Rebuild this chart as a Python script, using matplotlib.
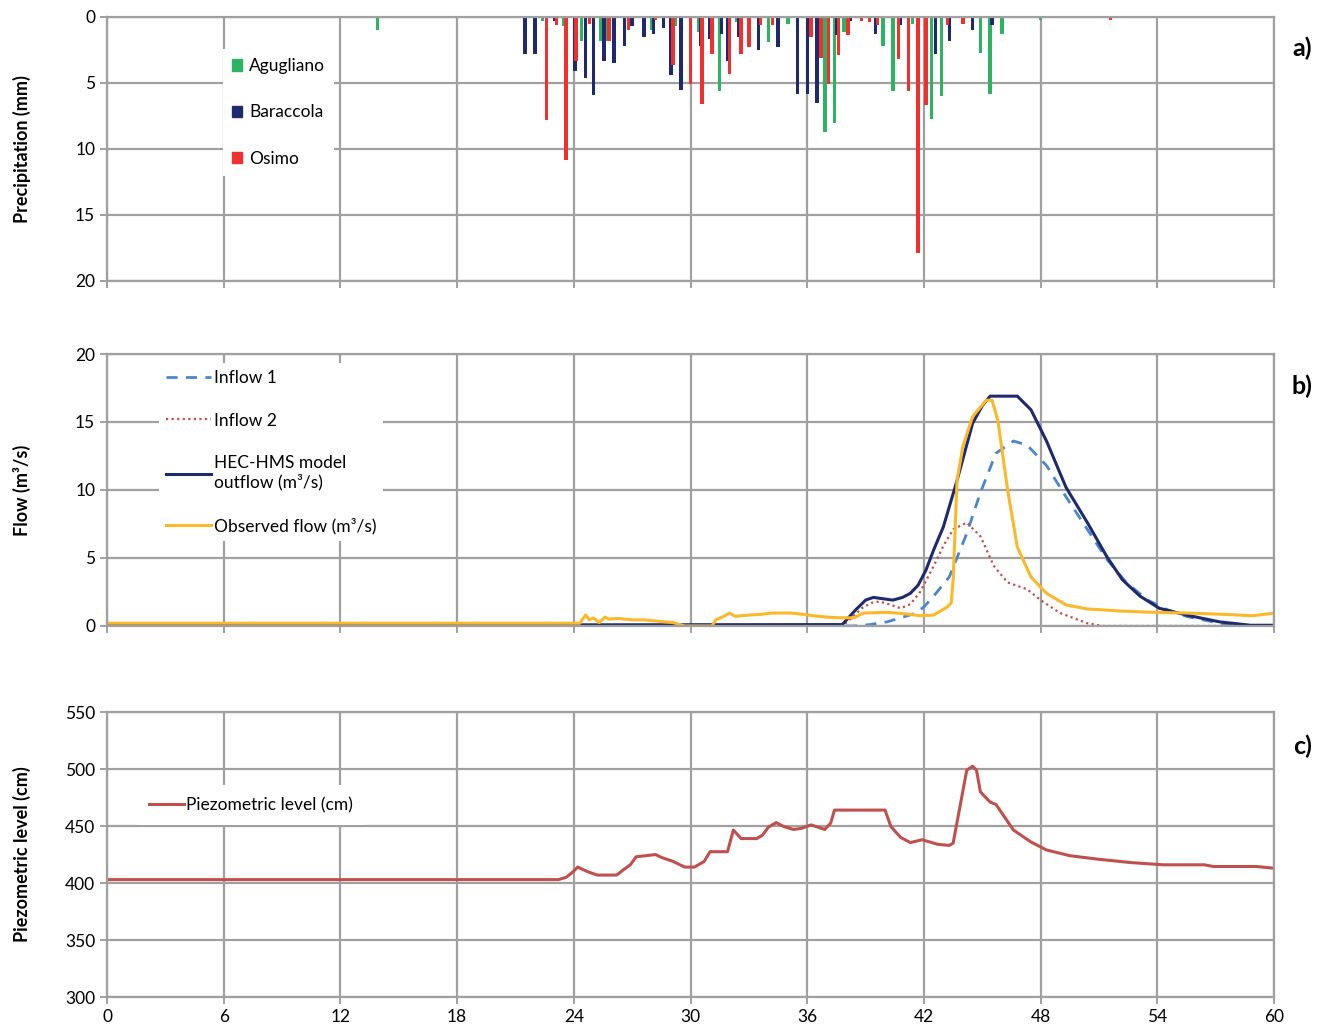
import matplotlib
matplotlib.use("Agg")
import matplotlib.pyplot as plt
from matplotlib.patches import Patch

plt.rcParams['font.family'] = ['Lato', 'DejaVu Sans']

# --- a) precipitation (mm), time in hours
ag_t = [13.9, 22.4, 23.5, 24.4, 25.4, 25.7, 26.6, 28.0, 29.2, 30.0, 30.4, 31.5, 32.4, 33.0, 34.0, 35.0,
        35.5, 36.5, 36.9, 37.4, 37.9, 39.9, 40.4, 41.4, 42.4, 42.9, 44.0, 44.5, 44.9, 45.4, 46.0, 48.0]
ag_mm = [1.0, 0.3, 0.7, 1.8, 1.8, 1.8, 1.0, 1.0, 0.7, 5.1, 1.1, 5.6, 0.4, 0.5, 1.9, 0.5,
         1.9, 3.0, 8.7, 8.0, 1.1, 2.2, 5.6, 0.5, 7.7, 6.0, 0.5, 0.8, 2.7, 5.8, 1.3, 0.2]

ba_t = [21.5, 22.0, 23.0, 24.05, 24.6, 25.0, 25.55, 26.07, 26.6, 27.0, 27.6, 28.1, 28.6, 29.0, 29.5,
        30.0, 30.5, 31.0, 31.6, 31.9, 32.5, 33.5, 34.5, 35.5, 36.0, 36.5, 37.5, 38.2, 39.5, 40.8,
        42.1, 42.6, 43.3, 44.5, 45.5, 49.0, 51.3]
ba_mm = [2.8, 2.8, 0.3, 4.1, 4.6, 5.9, 3.3, 3.5, 2.2, 0.7, 1.5, 1.3, 0.8, 4.4, 5.5,
         0.6, 2.2, 1.7, 1.3, 3.3, 1.5, 2.5, 2.3, 5.8, 5.8, 6.5, 1.4, 0.3, 1.3, 0.6,
         2.6, 2.8, 1.8, 1.0, 0.6, 0.1, 0.1]

os_t = [22.6, 23.1, 23.6, 24.1, 24.8, 25.8, 26.8, 28.2, 29.1, 30.0, 30.6, 31.1, 32.0, 32.6, 33.0, 33.6,
        34.2, 36.2, 36.7, 37.1, 37.6, 38.1, 38.8, 39.2, 39.6, 40.7, 41.2, 41.7, 42.1, 43.2, 44.0, 51.6]
os_mm = [7.8, 0.6, 10.8, 3.3, 0.5, 1.8, 1.0, 0.2, 3.6, 5.1, 6.6, 2.8, 4.3, 2.8, 2.3, 0.6,
         0.6, 1.5, 3.1, 5.1, 2.9, 1.4, 0.3, 0.4, 0.6, 3.2, 5.6, 17.9, 6.7, 0.6, 0.5, 0.2]

# --- b) flow (m3/s)
in1_t = [0, 38.4, 39.2, 40.1, 40.8, 41.5, 42.0, 42.5, 43.3, 44.2, 44.9, 45.7, 46.6, 47.3, 48.3, 49.3,
         50.4, 51.4, 52.4, 53.5, 54.5, 55.5, 57.2, 58.9, 60]
in1_q = [0, 0, 0.1, 0.3, 0.6, 0.9, 1.4, 2.2, 3.6, 6.8, 9.8, 12.7, 13.6, 13.3, 11.8, 9.5,
         7.1, 4.9, 3.2, 1.9, 1.2, 0.7, 0.2, 0.0, 0.0]

in2_t = [0, 37.8, 38.3, 38.8, 39.3, 39.7, 40.2, 40.8, 41.3, 41.8, 42.5, 43.0, 43.5, 44.2, 44.9, 45.6,
         46.3, 47.3, 48.0, 49.0, 50.4, 51.2, 60]
in2_q = [0, 0, 0.6, 1.3, 1.7, 1.8, 1.6, 1.3, 1.6, 2.5, 4.4, 5.9, 7.1, 7.6, 6.6, 4.4,
         3.2, 2.7, 1.9, 0.95, 0.2, 0.0, 0.0]

hec_t = [0, 37.8, 38.5, 39.0, 39.4, 39.9, 40.4, 40.9, 41.3, 41.7, 42.1, 42.5, 43.0, 43.7, 44.5, 45.0,
         45.4, 46.8, 47.5, 48.3, 49.3, 50.4, 51.4, 52.2, 53.1, 54.1, 55.5, 57.2, 58.8, 60]
hec_q = [0.05, 0.1, 1.2, 1.9, 2.1, 2.0, 1.9, 2.1, 2.4, 3.0, 4.1, 5.6, 7.3, 10.7, 14.9, 16.2,
         16.9, 16.9, 15.9, 13.6, 10.2, 7.6, 5.1, 3.4, 2.2, 1.3, 0.8, 0.3, 0.05, 0.05]

obs_t = [0, 24.3, 24.6, 24.8, 25.0, 25.3, 25.6, 25.8, 26.3, 27.0, 27.6, 28.3, 29.1, 29.7, 31.1, 31.3,
         31.7, 32.0, 32.3, 32.6, 33.0, 33.6, 34.2, 35.2, 35.8, 36.3, 37.0, 37.7, 38.4, 38.9, 40.1,
         41.0, 41.8, 42.5, 43.2, 43.4, 43.5, 43.7, 44.0, 44.5, 45.2, 45.5, 45.8, 46.3, 46.8, 47.5,
         48.3, 49.3, 50.4, 52.1, 53.8, 55.5, 57.5, 58.9, 60]
obs_q = [0.2, 0.2, 0.8, 0.45, 0.6, 0.25, 0.65, 0.5, 0.55, 0.45, 0.45, 0.35, 0.25, 0.0, 0.0, 0.45,
         0.7, 0.95, 0.7, 0.75, 0.8, 0.85, 0.95, 0.95, 0.85, 0.75, 0.65, 0.6, 0.6, 0.95, 1.0,
         0.9, 0.75, 0.8, 1.4, 1.7, 3.4, 10.7, 13.2, 15.4, 16.6, 16.6, 15.1, 10.0, 5.8, 3.6,
         2.4, 1.55, 1.25, 1.1, 1.0, 0.95, 0.85, 0.75, 0.95]

# --- c) piezometric level (cm)
pz_t = [0, 23.2, 23.6, 23.9, 24.2, 24.7, 25.2, 26.2, 26.5, 26.9, 27.2, 27.7, 28.2, 28.5, 29.1, 29.7,
        30.2, 30.7, 31.0, 31.9, 32.2, 32.6, 33.4, 33.7, 34.0, 34.4, 34.8, 35.3, 35.7, 36.2, 36.9,
        37.2, 37.4, 40.0, 40.3, 40.8, 41.3, 41.9, 42.7, 43.3, 43.5, 44.2, 44.5, 44.7, 44.9, 45.4,
        45.7, 46.6, 47.5, 48.3, 49.5, 50.9, 52.6, 54.3, 56.4, 56.9, 59.1, 60]
pz_cm = [403, 403, 405, 409, 414, 410, 407, 407, 411, 416, 423, 424, 425, 422.5, 419, 414,
         414, 419, 427.5, 427.5, 446.5, 439, 439, 442, 449, 453, 449.5, 447, 448, 451, 447,
         452.5, 464, 464, 449.5, 440, 435.5, 438, 434, 433, 435, 499, 502.5, 499, 480, 471,
         469, 446.5, 436, 429, 424, 421, 418, 416, 416, 414.5, 414.5, 413]

hours = list(range(0, 61, 6))
grid_c = '#a0a0a0'
green, navy, red = '#2db462', '#1f2a6e', '#f0302e'

fig = plt.figure(figsize=(13.33, 10.36), dpi=100)
ax1 = fig.add_axes([0.0803, 0.7288, 0.8755, 0.2548])
ax2 = fig.add_axes([0.0803, 0.3958, 0.8755, 0.2625])
ax3 = fig.add_axes([0.0803, 0.0376, 0.8755, 0.2751])


def style(ax, yt, labels_x):
    ax.set_xlim(0, 60)
    ax.set_xticks(hours)
    ax.set_yticks(yt)
    ax.grid(True, color=grid_c, lw=1.6)
    ax.set_axisbelow(True)
    for s in ax.spines.values():
        s.set_color(grid_c)
        s.set_linewidth(1.6)
    ax.tick_params(colors=grid_c, labelcolor='black', labelsize=12.5, length=5, width=1.4)
    if not labels_x:
        ax.tick_params(labelbottom=False)
    ax.yaxis.set_label_coords(-0.065, 0.5)


# a)
w = 0.18
ax1.bar(ag_t, ag_mm, width=w, color=green, label='Agugliano', zorder=2)
ax1.bar(ba_t, ba_mm, width=w, color=navy, label='Baraccola', zorder=2)
ax1.bar(os_t, os_mm, width=w, color=red, label='Osimo', zorder=2)
ax1.set_ylim(20, 0)
style(ax1, [0, 5, 10, 15, 20], False)
ax1.set_ylabel('Precipitation (mm)', fontsize=13, fontweight='bold')
h1 = [Patch(color=green), Patch(color=navy), Patch(color=red)]
ax1.legend(h1, ['Agugliano', 'Baraccola', 'Osimo'], loc='upper left',
           bbox_to_anchor=(0.092, 0.91), fontsize=12.5, labelspacing=1.75,
           handlelength=0.6, handleheight=0.6, handletextpad=0.4,
           fancybox=False, framealpha=1, edgecolor='none', borderpad=0.5)

# b)
ax2.plot(in1_t, in1_q, color='#4a86d0', lw=2.0, ls=(0, (4, 3)), label='Inflow 1')
ax2.plot(in2_t, in2_q, color='#c0504d', lw=1.6, ls=(0, (1, 1.5)), label='Inflow 2')
ax2.plot(hec_t, hec_q, color=navy, lw=2.2, label='HEC-HMS model\noutflow (m³/s)')
ax2.plot(obs_t, obs_q, color='#fbb829', lw=2.2, label='Observed flow (m³/s)')
ax2.set_ylim(0, 20)
style(ax2, [0, 5, 10, 15, 20], False)
ax2.set_ylabel('Flow (m³/s)', fontsize=13, fontweight='bold')
ax2.legend(loc='upper left', bbox_to_anchor=(0.037, 1.0), fontsize=12.5, labelspacing=1.55,
           handlelength=2.6, handletextpad=0.15, fancybox=False, framealpha=1,
           edgecolor='none', borderpad=0.4)

# c)
ax3.plot(pz_t, pz_cm, color='#c0504d', lw=2.2, label='Piezometric level (cm)')
ax3.set_ylim(300, 550)
style(ax3, [300, 350, 400, 450, 500, 550], True)
ax3.set_ylabel('Piezometric level (cm)', fontsize=13, fontweight='bold')
ax3.legend(loc='upper left', bbox_to_anchor=(0.018, 0.775), fontsize=12.5,
           handlelength=2.0, handletextpad=0.15, fancybox=False, framealpha=1,
           edgecolor='none', borderpad=0.7)

for lab, yy in [('a)', 0.953), ('b)', 0.627), ('c)', 0.280)]:
    fig.text(0.977, yy, lab, fontsize=18, fontweight='bold', ha='center', va='center')

fig.savefig('out.png', dpi=100)
